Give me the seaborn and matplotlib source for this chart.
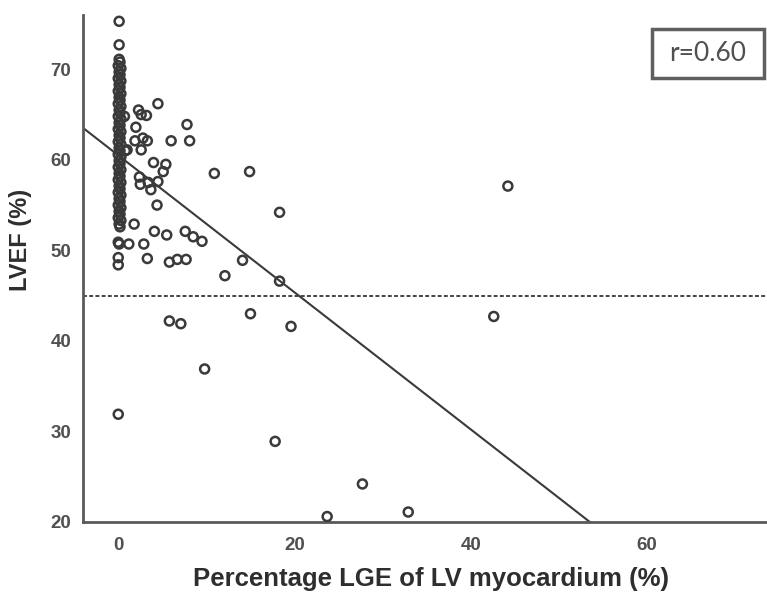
import matplotlib
matplotlib.use("Agg")
import matplotlib.pyplot as plt
from matplotlib.patches import Rectangle
import seaborn as sns
import pandas as pd

# points stacked on the x=0 column (no LGE)
zero_lge_x = [0.1, 0.1, 0.1, 0.2, 0.0, 0.3, 0.1, 0.2, 0.0, 0.3, 0.1, 0.2, 0.0, 0.3,
              0.1, 0.2, 0.0, 0.3, 0.1, 0.2, 0.0, 0.3, 0.1, 0.2, 0.0, 0.3, 0.1, 0.2,
              0.0, 0.3, 0.1, 0.2, 0.0, 0.3, 0.1, 0.2, 0.0, 0.3, 0.1, 0.2, 0.0, 0.3,
              0.1, 0.2, 0.0, 0.3, 0.1, 0.2, 0.0, 0.3, 0.1, 0.2, 0.0, 0.3, 0.1, 0.2,
              0.0, 0.1, 0.0, 0.0, 0.0]
zero_lge_y = [75.3, 72.7, 71.1, 70.8, 70.4, 70.1, 69.7, 69.4, 69.0, 68.7, 68.3, 68.0,
              67.6, 67.3, 66.9, 66.6, 66.2, 65.9, 65.5, 65.2, 64.8, 64.5, 64.1, 63.8,
              63.4, 63.1, 62.7, 62.4, 62.0, 61.7, 61.3, 61.0, 60.6, 60.3, 59.9, 59.6,
              59.2, 58.9, 58.5, 58.2, 57.8, 57.5, 57.1, 56.8, 56.4, 56.1, 55.7, 55.4,
              55.0, 54.7, 54.3, 54.0, 53.6, 53.3, 52.9, 52.6, 50.9, 50.7, 49.2, 48.4,
              31.9]

# remaining patients
lge_x = [0.7, 0.8, 1.0, 2.3, 2.6, 3.2, 4.5, 7.8, 2.0, 1.9, 2.8, 3.3, 2.6, 6.0, 8.1,
         4.0, 5.4, 5.1, 10.9, 14.9, 2.4, 2.5, 3.4, 3.7, 4.5, 4.4, 18.3, 1.8, 4.1, 5.5,
         7.6, 8.5, 9.5, 1.2, 2.9, 3.3, 5.8, 6.7, 7.7, 14.1, 12.1, 18.3, 44.2, 42.6,
         19.6, 15.0, 5.8, 7.1, 9.8, 17.8, 23.7, 27.7, 32.9]
lge_y = [64.8, 61.0, 61.1, 65.5, 65.0, 64.9, 66.2, 63.9, 63.6, 62.1, 62.4, 62.1, 61.1,
         62.1, 62.1, 59.7, 59.5, 58.7, 58.5, 58.7, 58.1, 57.3, 57.5, 56.7, 57.6, 55.0,
         54.2, 52.9, 52.1, 51.7, 52.1, 51.5, 51.0, 50.7, 50.7, 49.1, 48.7, 49.0, 49.0,
         48.9, 47.2, 46.6, 57.1, 42.7, 41.6, 43.0, 42.2, 41.9, 36.9, 28.9, 20.6, 24.2,
         21.1]

fit_intercept = 60.5
fit_slope = -0.757
lvef_cutoff = 45
r_text = "r=0.60"

df = pd.DataFrame({"lge": zero_lge_x + lge_x, "lvef": zero_lge_y + lge_y})

sns.set_style("white")
plt.rcParams["font.family"] = ["Liberation Sans", "DejaVu Sans"]

fig = plt.figure(figsize=(7.67, 5.96), dpi=100)
ax = fig.add_axes([0.1082, 0.1242, 0.8918, 0.8507])

sns.scatterplot(data=df, x="lge", y="lvef", ax=ax, marker="o", s=42,
                facecolors="none", edgecolor="#3a3a3a", linewidth=1.8, zorder=3)

# fit line and 45% cut-off
ax.axline((0, fit_intercept), slope=fit_slope, color="#3a3a3a", lw=1.5, zorder=2)
ax.axhline(lvef_cutoff, color="#444444", lw=1.4, ls=(0, (2, 1.2)), zorder=2)

ax.set_xlim(-4, 73.6)
ax.set_ylim(20, 76)
ax.set_xticks([0, 20, 40, 60])
ax.set_yticks([20, 30, 40, 50, 60, 70])

for side in ["top", "right"]:
    ax.spines[side].set_visible(False)
for side in ["left", "bottom"]:
    ax.spines[side].set_color("#5a5a5a")
    ax.spines[side].set_linewidth(2)

ax.tick_params(axis="y", direction="out", length=8, width=1.6, color="#5a5a5a",
               labelsize=13.5, labelcolor="#505050", pad=0.5)
ax.tick_params(axis="x", direction="out", length=7, width=1.6, color="#5a5a5a",
               labelsize=13.5, labelcolor="#505050", pad=4)
for lab in ax.get_xticklabels() + ax.get_yticklabels():
    lab.set_fontweight("bold")

ax.set_xlabel("Percentage LGE of LV myocardium (%)", fontsize=18.5, fontweight="bold",
              color="#2e2e2e")
ax.xaxis.set_label_coords(0.509, -0.088)
ax.set_ylabel("LVEF (%)", fontsize=17, fontweight="bold", color="#2e2e2e")
ax.yaxis.set_label_coords(-0.0746, 0.556)

# r box
ax.add_patch(Rectangle((0.832, 0.876), 0.1637, 0.0967, transform=ax.transAxes,
                       fill=True, fc="white", ec="#5f5f5f", lw=2.5, zorder=4,
                       clip_on=False))
ax.text(0.9138, 0.923, r_text, transform=ax.transAxes, ha="center", va="center",
        fontsize=19, color="#505050", family=["Lato", "DejaVu Sans"], zorder=5)

fig.savefig("out.png", dpi=100)
